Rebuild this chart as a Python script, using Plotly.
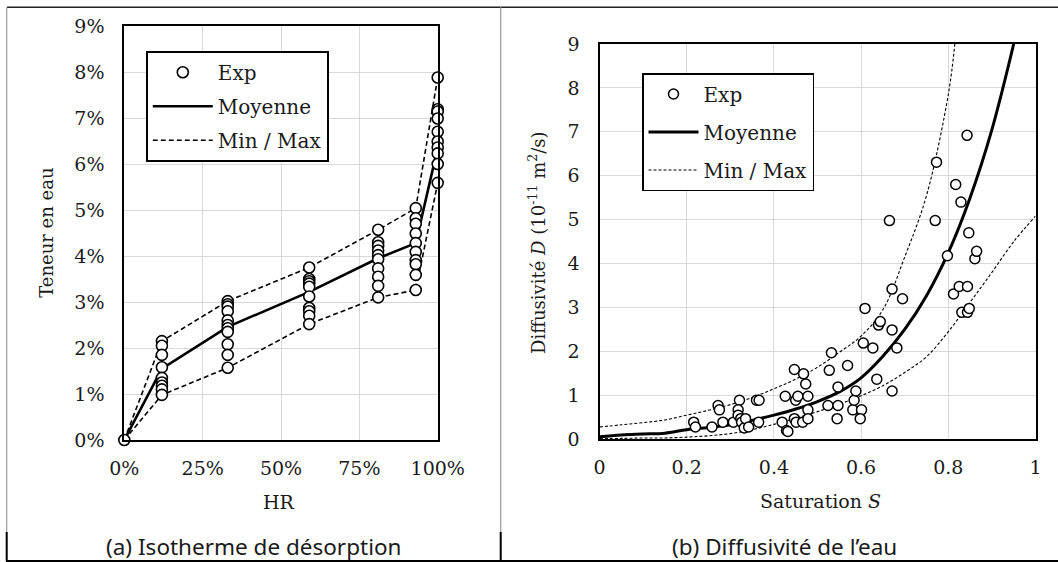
import plotly.graph_objects as go

W, H = 1058, 562

# ---------------- Left panel: desorption isotherm ----------------
hr_levels = [0, 12, 33, 59, 81, 93, 100]          # HR (%)
w_hr0 = [0.0]
w_hr12 = [2.15, 2.05, 1.85, 1.58, 1.35, 1.25, 1.18, 1.10, 0.98]
w_hr33 = [3.02, 2.95, 2.90, 2.80, 2.60, 2.50, 2.43, 2.35, 2.08, 1.85, 1.57]
w_hr59 = [3.75, 3.50, 3.45, 3.40, 3.33, 3.12, 2.87, 2.80, 2.70, 2.52]
w_hr81 = [4.57, 4.30, 4.22, 4.12, 4.02, 3.93, 3.73, 3.55, 3.35, 3.10]
w_hr93 = [5.04, 4.82, 4.70, 4.49, 4.28, 4.09, 3.91, 3.82, 3.59, 3.26]
w_hr100 = [7.88, 7.19, 7.14, 6.99, 6.70, 6.49, 6.36, 6.23, 6.00, 5.59]
w_mean = [0.0, 1.55, 2.46, 3.22, 3.95, 4.28, 6.35]
w_min = [0.0, 0.98, 1.57, 2.52, 3.10, 3.26, 5.59]
w_max = [0.0, 2.15, 3.02, 3.75, 4.57, 5.04, 7.88]
x_ticks_a = [0, 25, 50, 75, 100]
x_ticklabels_a = ["0%", "25%", "50%", "75%", "100%"]
y_ticks_a = [0, 1, 2, 3, 4, 5, 6, 7, 8, 9]
y_ticklabels_a = ["0%", "1%", "2%", "3%", "4%", "5%", "6%", "7%", "8%", "9%"]

# ---------------- Right panel: water diffusivity ----------------
s_exp = [0.216, 0.220, 0.258, 0.272, 0.275, 0.283, 0.307, 0.321, 0.318, 0.318,
         0.324, 0.326, 0.332, 0.335, 0.342, 0.360, 0.366, 0.365, 0.419, 0.426,
         0.429, 0.432, 0.447, 0.450, 0.455, 0.447, 0.451, 0.468, 0.473, 0.466,
         0.478, 0.478, 0.478, 0.524, 0.527, 0.532, 0.547, 0.547, 0.545, 0.569,
         0.581, 0.584, 0.588, 0.601, 0.598, 0.605, 0.609, 0.627, 0.636, 0.640,
         0.644, 0.665, 0.671, 0.671, 0.671, 0.682, 0.695, 0.770, 0.773, 0.798,
         0.812, 0.817, 0.825, 0.829, 0.831, 0.843, 0.844, 0.844, 0.847, 0.848,
         0.861, 0.865]
d_exp = [0.39, 0.28, 0.28, 0.77, 0.67, 0.39, 0.39, 0.89, 0.67, 0.55,
         0.47, 0.39, 0.26, 0.47, 0.28, 0.89, 0.89, 0.39, 0.39, 0.98,
         0.20, 0.18, 1.59, 0.89, 0.98, 0.47, 0.39, 1.49, 1.26, 0.39,
         0.98, 0.67, 0.47, 0.77, 1.57, 1.97, 1.19, 0.77, 0.47, 1.68,
         0.67, 0.89, 1.10, 0.67, 0.47, 2.19, 2.98, 2.08, 1.37, 2.60,
         2.68, 4.98, 2.49, 3.42, 1.10, 2.08, 3.20, 4.98, 6.31, 4.18,
         3.31, 5.80, 3.48, 5.40, 2.89, 6.92, 3.48, 2.89, 4.70, 2.98,
         4.11, 4.28]
s_mean = [0, 0.05, 0.1, 0.15, 0.2, 0.25, 0.3, 0.35, 0.4, 0.45, 0.5, 0.55,
          0.6, 0.65, 0.7, 0.75, 0.8, 0.85, 0.9, 0.95]
d_mean = [0.06, 0.10, 0.12, 0.14, 0.22, 0.27, 0.33, 0.43, 0.55, 0.69, 0.86, 1.08,
          1.40, 1.89, 2.50, 3.27, 4.25, 5.50, 7.05, 9.00]
s_max = [0, 0.05, 0.1, 0.15, 0.2, 0.25, 0.3, 0.35, 0.4, 0.45, 0.5, 0.55,
         0.6, 0.65, 0.7, 0.75, 0.8, 0.815]
d_max = [0.28, 0.33, 0.38, 0.44, 0.55, 0.66, 0.79, 0.95, 1.15, 1.37, 1.64, 1.98,
         2.35, 2.95, 4.15, 5.55, 7.85, 9.00]
s_min = [0, 0.05, 0.1, 0.15, 0.2, 0.25, 0.3, 0.35, 0.4, 0.45, 0.5, 0.55,
         0.6, 0.65, 0.7, 0.75, 0.8, 0.85, 0.9, 0.95, 1.0]
d_min = [0.02, 0.02, 0.03, 0.03, 0.05, 0.08, 0.13, 0.22, 0.34, 0.48, 0.63, 0.80,
         0.99, 1.22, 1.52, 1.88, 2.45, 3.12, 3.80, 4.50, 5.08]
x_ticks_b = [0, 0.2, 0.4, 0.6, 0.8, 1]
x_ticklabels_b = ["0", "0.2", "0.4", "0.6", "0.8", "1"]
y_ticks_b = [0, 1, 2, 3, 4, 5, 6, 7, 8, 9]

# build the experimental arrays for panel (a)
groups_a = [w_hr0, w_hr12, w_hr33, w_hr59, w_hr81, w_hr93, w_hr100]
exp_hr, exp_w = [], []
for lvl, vals in zip(hr_levels, groups_a):
    exp_hr += [lvl] * len(vals)
    exp_w += vals

SERIF = "DejaVu Serif"
TXT = "#1a1a1a"
GRID = "#d9d9d9"

fig = go.Figure()

# ---- panel (a) traces
fig.add_trace(go.Scatter(x=hr_levels, y=w_max, mode="lines", showlegend=False,
                         legendgroup="mm", line=dict(color="black", width=1.6, dash="5px,3px"),
                         xaxis="x", yaxis="y", legend="legend"))
fig.add_trace(go.Scatter(x=hr_levels, y=w_min, mode="lines", name="Min / Max",
                         legendgroup="mm", legendrank=3,
                         line=dict(color="black", width=1.6, dash="5px,3px"),
                         xaxis="x", yaxis="y", legend="legend"))
fig.add_trace(go.Scatter(x=hr_levels, y=w_mean, mode="lines", name="Moyenne",
                         legendgroup="mean", legendrank=2,
                         line=dict(color="black", width=2.6),
                         xaxis="x", yaxis="y", legend="legend"))
fig.add_trace(go.Scatter(x=exp_hr, y=exp_w, mode="markers", name="Exp",
                         legendgroup="exp", legendrank=1, cliponaxis=False,
                         marker=dict(symbol="circle", size=11, color="white",
                                     line=dict(color="black", width=1.6)),
                         xaxis="x", yaxis="y", legend="legend"))

# ---- panel (b) traces
fig.add_trace(go.Scatter(x=s_max, y=d_max, mode="lines", showlegend=False,
                         legendgroup="mm2", line=dict(color="black", width=1.1, dash="3px,2px"),
                         line_shape="spline", xaxis="x2", yaxis="y2", legend="legend2"))
fig.add_trace(go.Scatter(x=s_min, y=d_min, mode="lines", name="Min / Max",
                         legendgroup="mm2", legendrank=3,
                         line=dict(color="black", width=1.1, dash="3px,2px"),
                         line_shape="spline", xaxis="x2", yaxis="y2", legend="legend2"))
fig.add_trace(go.Scatter(x=s_mean, y=d_mean, mode="lines", name="Moyenne",
                         legendgroup="mean2", legendrank=2,
                         line=dict(color="black", width=3), line_shape="spline",
                         xaxis="x2", yaxis="y2", legend="legend2"))
fig.add_trace(go.Scatter(x=s_exp, y=d_exp, mode="markers", name="Exp",
                         legendgroup="exp2", legendrank=1,
                         marker=dict(symbol="circle", size=10, color="white",
                                     line=dict(color="black", width=1.5)),
                         xaxis="x2", yaxis="y2", legend="legend2"))

axis_common = dict(showgrid=True, gridcolor=GRID, gridwidth=1.3, zeroline=False,
                   showline=True, linecolor="black", linewidth=2, mirror=True,
                   ticks="", automargin=False,
                   tickfont=dict(family=SERIF, size=19, color=TXT))

fig.update_layout(
    template="none",
    width=W, height=H,
    margin=dict(l=0, r=0, t=0, b=0, pad=0, autoexpand=False),
    paper_bgcolor="white", plot_bgcolor="white",
    font=dict(family=SERIF, size=19, color=TXT),
    xaxis=dict(domain=[124.3 / W, 437.7 / W], range=[0, 100], tickmode="array",
               tickvals=x_ticks_a, ticktext=x_ticklabels_a,
               anchor="y", ticklabelstandoff=10, **axis_common),
    yaxis=dict(domain=[1 - 440 / H, 1 - 26 / H], range=[0, 9], tickmode="array",
               tickvals=y_ticks_a, ticktext=y_ticklabels_a,
               anchor="x", ticklabelstandoff=14, **axis_common),
    xaxis2=dict(domain=[599.5 / W, 1035.5 / W], range=[0, 1], tickmode="array",
                tickvals=x_ticks_b, ticktext=x_ticklabels_b,
                anchor="y2", ticklabelstandoff=10, **axis_common),
    yaxis2=dict(domain=[1 - 439.3 / H, 1 - 44 / H], range=[0, 9], tickmode="array",
                tickvals=y_ticks_b, anchor="x2", ticklabelstandoff=14, **axis_common),
    legend=dict(x=146 / W, y=1 - 51 / H, xanchor="left", yanchor="top",
                bgcolor="white", bordercolor="black", borderwidth=1.8,
                font=dict(family=SERIF, size=20, color=TXT),
                traceorder="grouped", tracegroupgap=5, itemwidth=60),
    legend2=dict(x=642 / W, y=1 - 73 / H, xanchor="left", yanchor="top",
                 bgcolor="white", bordercolor="black", borderwidth=1.5,
                 font=dict(family=SERIF, size=20, color=TXT),
                 traceorder="grouped", tracegroupgap=9, itemwidth=50),
    showlegend=True,
)

annotations = [
    dict(text="Teneur en eau", x=45.8 / W, y=1 - 233 / H, textangle=-90,
         font=dict(family=SERIF, size=18, color=TXT)),
    dict(text="HR", x=279 / W, y=1 - 502 / H, font=dict(family=SERIF, size=19, color=TXT)),
    dict(text="Diffusivité <i>D</i> (10<sup>-11</sup> m<sup>2</sup>/s)", x=537 / W,
         y=1 - 243 / H, textangle=-90, font=dict(family=SERIF, size=18, color=TXT)),
    dict(text="Saturation <i>S</i>", x=820 / W, y=1 - 501 / H,
         font=dict(family=SERIF, size=19, color=TXT)),
    dict(text="(a) Isotherme de désorption", x=253 / W, y=1 - 546 / H,
         font=dict(family="Noto Sans", size=22.5, color=TXT)),
    dict(text="(b) Diffusivité de l’eau", x=784.6 / W, y=1 - 546 / H,
         font=dict(family="Noto Sans", size=22.5, color=TXT)),
]
for a in annotations:
    a.update(xref="paper", yref="paper", showarrow=False, xanchor="center", yanchor="middle")
fig.update_layout(annotations=annotations)

# table borders around the two panels
shapes = [
    dict(type="line", x0=7 / W, x1=1.0, y0=1 - 7.3 / H, y1=1 - 7.3 / H,
         line=dict(color="#222", width=1.5)),
    dict(type="line", x0=6.7 / W, x1=6.7 / W, y0=1 - 7.3 / H, y1=1 - 532 / H,
         line=dict(color="#9a9a9a", width=1.2)),
    dict(type="line", x0=6.7 / W, x1=6.7 / W, y0=1 - 532 / H, y1=1 - 561 / H,
         line=dict(color="black", width=2)),
    dict(type="line", x0=500.7 / W, x1=500.7 / W, y0=1 - 7.3 / H, y1=1 - 532 / H,
         line=dict(color="#9a9a9a", width=1.2)),
    dict(type="line", x0=500.7 / W, x1=500.7 / W, y0=1 - 532 / H, y1=1 - 561 / H,
         line=dict(color="black", width=2)),
    dict(type="line", x0=6 / W, x1=1.0, y0=1 - 561 / H, y1=1 - 561 / H,
         line=dict(color="black", width=2)),
]
for s in shapes:
    s.update(xref="paper", yref="paper", layer="above")
fig.update_layout(shapes=shapes)

fig.write_html(
    "out.html",
    config={"displayModeBar": False},
    post_script="document.body.style.margin='0px';document.body.style.padding='0px';"
                "document.body.style.overflow='hidden';",
)
